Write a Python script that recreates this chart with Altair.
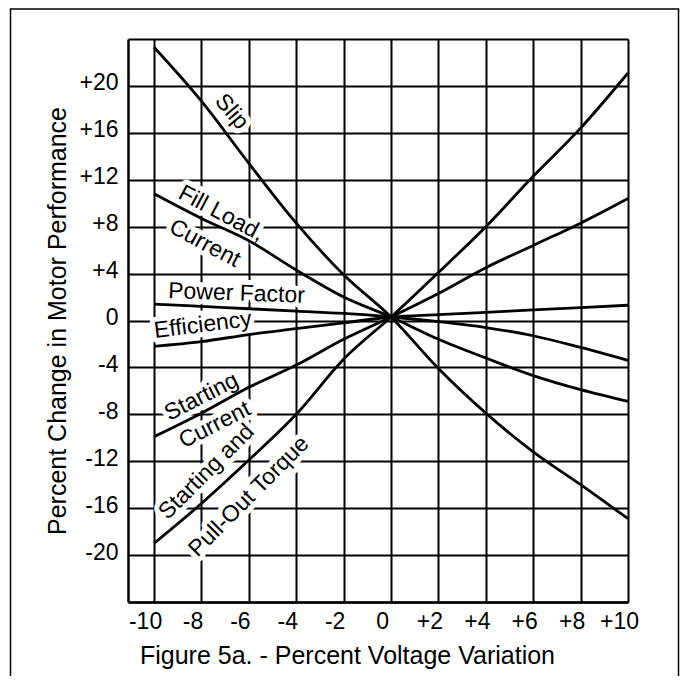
import altair as alt
import pandas as pd

FONT = "Liberation Sans, Arial, Helvetica, sans-serif"

# ---- data ----
volt = [-10, -8, -6, -4, -2, 0, 2, 4, 6, 8, 10]
slip = [23.3, 18.7, 13.4, 8.3, 3.9, 0.3, -4.1, -7.9, -11.2, -14.0, -16.9]
full_load_current = [10.8, 8.7, 6.8, 4.3, 2.0, 0.3, -1.6, -3.2, -4.7, -5.9, -6.9]
power_factor = [1.4, 1.2, 1.0, 0.8, 0.6, 0.3, -0.1, -0.6, -1.3, -2.3, -3.4]
efficiency = [-2.2, -1.8, -1.2, -0.7, -0.2, 0.3, 0.5, 0.7, 0.9, 1.1, 1.3]
starting_current = [-9.9, -7.9, -5.7, -3.8, -1.6, 0.3, 2.3, 4.5, 6.4, 8.3, 10.4]
torque = [-19.0, -15.6, -11.9, -8.0, -3.3, 0.3, 4.1, 8.0, 12.3, 16.4, 21.1]

y_ticks = [-24, -20, -16, -12, -8, -4, 0, 4, 8, 12, 16, 20, 24]

label_text = ["Slip", "Fill Load,", "Current", "Power Factor", "Efficiency",
              "Starting", "Current", "Starting and", "Pull-Out Torque"]
label_x = [-6.72, -7.16, -7.86, -6.52, -7.94, -8.0, -7.44, -7.79, -6.0]
label_y = [17.8, 9.14, 6.58, 2.32, -0.38, -6.5, -8.9, -12.9, -15.0]
label_angle = [50, 28, 28, 2, -7, -27, -27, -45, -45]

series = {
    "Slip": slip,
    "Full Load Current": full_load_current,
    "Power Factor": power_factor,
    "Efficiency": efficiency,
    "Starting Current": starting_current,
    "Starting and Pull-Out Torque": torque,
}

rows = []
for name, vals in series.items():
    for v, p in zip(volt, vals):
        rows.append({"series": name, "v": v, "p": p})
df = pd.DataFrame(rows)

labels = pd.DataFrame({
    "text": label_text,
    "v": label_x,
    "p": label_y,
    "a": [(a + 360) % 360 for a in label_angle],
})

xscale = alt.Scale(domain=[-11.1, 10], nice=False, zero=False)
yscale = alt.Scale(domain=[-24, 24], nice=False, zero=False)

x_axis = alt.Axis(
    values=volt,
    labelExpr="datum.value > 0 ? '+' + datum.value : '' + datum.value",
    labelPadding=8, labelOffset=-9, labelFlush=False,
    titleX=219, titleY=61, titleAlign="center", titleBaseline="alphabetic",
)
y_axis = alt.Axis(
    values=y_ticks,
    labelExpr="abs(datum.value) == 24 ? '' : (datum.value > 0 ? '+' + datum.value : '' + datum.value)",
    labelPadding=10, labelOffset=-3, labelFlush=False,
    titleX=-63, titleY=281.5, titleAngle=270, titleAlign="center", titleBaseline="alphabetic",
)

X = alt.X("v:Q", scale=xscale, axis=x_axis, title="Figure 5a. - Percent Voltage Variation")
Y = alt.Y("p:Q", scale=yscale, axis=y_axis, title="Percent Change in Motor Performance")

frame = alt.Chart(pd.DataFrame({"k": [0]})).mark_rect(
    fill="transparent", stroke="black", strokeWidth=1.5
).encode(
    x=alt.value(-117.5), x2=alt.value(550.5), y=alt.value(-30), y2=alt.value(720)
)

halo = alt.Chart(labels).mark_text(
    font=FONT, fontSize=23, align="center", baseline="middle",
    fill="white", stroke="white", strokeWidth=10, strokeJoin="round"
).encode(x=X, y=Y, text="text:N", angle=alt.Angle("a:Q", scale=None))

lines = alt.Chart(df).mark_line(
    color="black", strokeWidth=2.8, interpolate="monotone"
).encode(x=X, y=Y, detail="series:N")

text = alt.Chart(labels).mark_text(
    font=FONT, fontSize=23, align="center", baseline="middle", color="black"
).encode(x=X, y=Y, text="text:N", angle=alt.Angle("a:Q", scale=None))

chart = alt.layer(frame, halo, lines, text).properties(
    width=500, height=563,
    autosize=alt.AutoSizeParams(type="none"),
    padding={"left": 120, "top": 31, "right": 52, "bottom": 74},
    background="white",
).configure_axis(
    domainColor="black", domainWidth=2.5,
    gridColor="black", gridWidth=2, gridOpacity=1,
    ticks=False,
    labelColor="black", titleColor="black",
    labelFont=FONT, titleFont=FONT,
    labelFontSize=23, titleFontSize=25, titleFontWeight="normal",
).configure_view(strokeWidth=0)

chart.save("out.html", embed_options={"renderer": "svg", "actions": False})
